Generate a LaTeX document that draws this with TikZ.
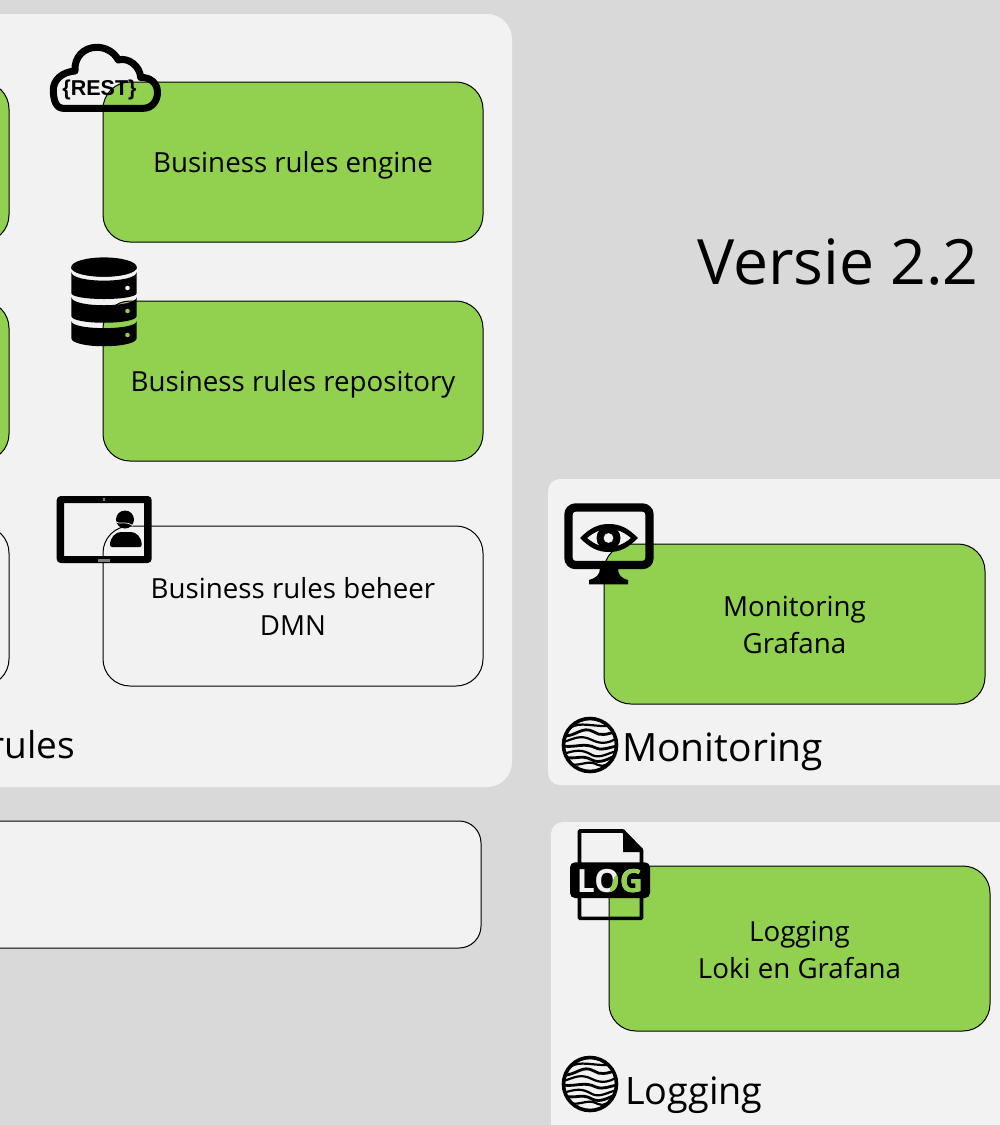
\documentclass[tikz,border=0pt]{standalone}
\usepackage{fontspec}
\setmainfont{Open Sans}
\definecolor{bggrey}{HTML}{D9D9D9}
\definecolor{panelgrey}{HTML}{F2F2F2}
\definecolor{boxgreen}{HTML}{92D050}
\tikzset{
  panel/.style={fill=panelgrey,draw=none,rounded corners=#1},
  cbox/.style={draw=black,line width=1pt,rounded corners=27pt,minimum width=380pt,minimum height=160pt,inner sep=0pt,align=center,font=\fontsize{27.7}{37}\selectfont},
  greenbox/.style={cbox,fill=boxgreen},
  whitebox/.style={cbox,fill=panelgrey},
  boxtext/.style={inner sep=0pt,font=\fontsize{27.7}{37}\selectfont},
  biglabel/.style={inner sep=0pt,anchor=base west,font=\fontsize{39}{48}\selectfont},
  ink/.style={fill=black,draw=none}
}
\newcommand{\globeicon}[2]{%
\begin{scope}[shift={(#1,#2)}]
  \begin{scope}
    \clip (0,0) circle [radius=27];
    \draw[line width=2.2pt] (-20,-17) .. controls (-10,-24) and (2,-18) .. (22,-19);
    \draw[line width=2.8pt] (-27,-9) .. controls (-14,-8) and (-8,-20) .. (4,-13) .. controls (10,-9) and (16,-10) .. (27,-14);
    \draw[line width=2.2pt] (-27,-3) .. controls (-16,-6) and (-10,-11) .. (2,-5) .. controls (10,-1) and (18,-1) .. (27,-7);
    \draw[line width=2.8pt] (-27,1) .. controls (-14,3) and (-6,-3) .. (6,3) .. controls (13,6) and (20,2) .. (27,1);
    \draw[line width=2.2pt] (-27,9) .. controls (-14,5) and (-8,4) .. (2,10) .. controls (10,14) and (18,8) .. (27,6);
    \draw[line width=2.8pt] (-26,12) .. controls (-14,15) and (-8,9) .. (2,15) .. controls (10,19) and (18,14) .. (27,10);
    \draw[line width=2.2pt] (-20,19) .. controls (-10,22) and (-2,14) .. (8,20) .. controls (14,23) and (18,18) .. (24,15);
  \end{scope}
  \draw[line width=3.6pt] (0,0) circle [radius=26.5];
\end{scope}}
\begin{document}
\begin{tikzpicture}[x=1pt,y=-1pt]
\useasboundingbox (0,0) rectangle (1000,1125);
\clip (0,0) rectangle (1000,1125);
\fill[bggrey] (0,0) rectangle (1000,1125);
% panels
\path[panel=25pt] (-30,14) rectangle (512,787);
\path[panel=12pt] (548,479) rectangle (1030,785);
\path[panel=12pt] (551,822) rectangle (1030,1145);
% left cut-off boxes
\node[greenbox] (leftA) at (-181,162) {};
\node[greenbox] (leftB) at (-181,381) {};
\node[whitebox] (leftC) at (-181,606) {};
\node[cbox,fill=panelgrey,rounded corners=22pt,minimum width=700pt,minimum height=127pt] (wide) at (131,884.5) {};
% boxes
\node[greenbox] (engine) at (293,162) {};
\node[boxtext] (enginetext) at ([yshift=-3.5pt]engine.center) {Business rules engine};
\node[greenbox] (repo) at (293,381) {};
\node[boxtext] (repotext) at ([yshift=-3.5pt]repo.center) {Business rules repository};
\node[whitebox] (beheer) at (293,606) {Business rules beheer\\DMN};
\node[greenbox,minimum width=381pt] (monitor) at (794.5,624) {};
\node[boxtext,align=center] (monitortext) at ([yshift=-1pt]monitor.center) {Monitoring\\Grafana};
\node[greenbox,minimum width=381pt,minimum height=165pt] (logbox) at (799.5,948.5) {};
\node[boxtext,align=center] (logtext) at ([yshift=-1pt]logbox.center) {Logging\\Loki en Grafana};
% labels
\node[biglabel,anchor=base east,font=\fontsize{37}{48}\selectfont] (rules) at (75,758) {rules};
\node[biglabel] (mon) at (622,761) {Monitoring};
\node[biglabel,font=\fontsize{37.8}{48}\selectfont] (logl) at (625,1104) {Logging};
\node[inner sep=0pt,font=\fontsize{62.5}{70}\selectfont] (versie) at (838,262) {Versie 2.2};
% cloud icon
\draw[line width=7pt,line join=round] (63.3,108.3) -- (143.3,108.3)
  .. controls (152,108.3) and (157.5,101) .. (157.5,92.3)
  .. controls (157.5,83) and (150,77) .. (140.7,77.5)
  .. controls (140,66) and (128,57) .. (118.3,60)
  .. controls (114,52) and (106,47.3) .. (96.7,47.3)
  .. controls (84,47.3) and (74,57) .. (75,71)
  .. controls (62,72) and (53.3,80) .. (53.3,90)
  .. controls (53.3,100) and (56,108.3) .. (63.3,108.3) -- cycle;
\node[inner sep=0pt,font=\fontsize{21.5}{24}\selectfont\bfseries,text=black] (rest) at (99.5,90) {\fontspec{Liberation Sans}\bfseries\{REST\}};
% database icon
\fill[ink] (104,267) ellipse [x radius=32.7,y radius=9.6];
\fill[ink] (71.3,267) .. controls (71.3,280) and (136.7,280) .. (136.7,267) -- cycle;
\fill[ink,even odd rule] (71.3,272) .. controls (71.3,283.5) and (136.7,283.5) .. (136.7,272) -- (136.7,293) .. controls (136.7,301) and (71.3,301) .. (71.3,293) -- cycle (127.5,288) circle [radius=2.4];
\fill[ink,even odd rule] (71.3,297) .. controls (71.3,308) and (136.7,308) .. (136.7,297) -- (136.7,316) .. controls (136.7,325) and (71.3,325) .. (71.3,316) -- cycle (127.5,311) circle [radius=2.4];
\fill[ink,even odd rule] (71.3,321) .. controls (71.3,330.5) and (136.7,330.5) .. (136.7,321) -- (136.7,338) .. controls (136.7,349) and (71.3,349) .. (71.3,338) -- cycle (127.5,335) circle [radius=2.4];
% tablet icon
\fill[ink,even odd rule] [rounded corners=4pt] (56.7,496) rectangle (151.7,563) [sharp corners] (64,503) rectangle (144,556);
\fill[gray] (98,558.5) rectangle (110,561.5);
\fill[gray] (103,498) rectangle (105,501);
\fill[ink] (125,519.5) circle [radius=9];
\fill[ink,rounded corners=2pt] (110,547) .. controls (110,537) and (116,532) .. (123,532) -- (129,532) .. controls (136,532) and (141.7,537) .. (141.7,547) -- cycle;
\draw[panelgrey,line width=0.7pt] (116,522) .. controls (120,525) and (126,520) .. (133,526);
% monitor icon
\draw[line width=8.3pt,rounded corners=7pt] (568.5,507.5) rectangle (649.5,565);
\fill[ink] (600,568) -- (618,568) .. controls (618,575) and (621,578) .. (628,580) -- (628,584.3) -- (589,584.3) -- (589,580) .. controls (596,578) and (600,575) .. (600,568) -- cycle;
\fill[ink,even odd rule] (580,538) .. controls (590,528) and (598,524) .. (609,524) .. controls (620,524) and (628,528) .. (638,538) .. controls (628,548) and (620,552) .. (609,552) .. controls (598,552) and (590,548) .. (580,538) -- cycle
  (587,538) .. controls (594,532) and (601,529) .. (609,529) .. controls (617,529) and (624,532) .. (631,538) .. controls (624,544) and (617,547) .. (609,547) .. controls (601,547) and (594,544) .. (587,538) -- cycle;
\fill[ink,even odd rule] (608.5,538) circle [radius=12] (608.5,538) circle [radius=5];
% log icon
\draw[line width=3.6pt,line join=round] (623,831) -- (579.5,831) -- (579.5,918.3) -- (641.5,918.3) -- (641.5,850) -- cycle;
\fill[ink] (623,831) -- (623,852) -- (643.3,852) -- cycle;
\fill[ink,rounded corners=5pt] (570,862.3) rectangle (650,898);
\node[inner sep=0pt,anchor=base,text=panelgrey,font=\fontsize{32}{40}\selectfont\bfseries] (logw) at (610,892) {LOG};
\begin{scope}
  \clip[rounded corners=27pt] (609,866) rectangle (990,1031);
  \node[inner sep=0pt,anchor=base,text=boxgreen,font=\fontsize{32}{40}\selectfont\bfseries] (logg) at (610,892) {LOG};
\end{scope}
% globes
\globeicon{590}{745}
\globeicon{590}{1084}
\end{tikzpicture}
\end{document}
